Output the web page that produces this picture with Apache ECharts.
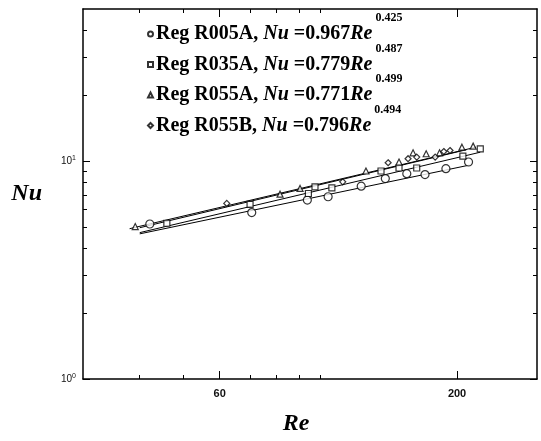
<!DOCTYPE html>
<html lang="en">
<head>
    <meta charset="UTF-8">
    <title>Nu vs Re</title>
</head>
<body style="margin:0;background:#fff;">
<div id="main" style="width:541px;height:441px;"></div>
<script src="https://cdn.jsdelivr.net/npm/echarts@6/dist/echarts.min.js"></script>
<script type="text/javascript">
    // data (Re, Nu)
    const r005a = [[42.1, 5.15], [70.6, 5.81], [93.6, 6.63], [104, 6.87], [123, 7.68], [139, 8.32],
        [155, 8.77], [170, 8.68], [189, 9.24], [212, 9.92]];
    const r035a = [[45.9, 5.19], [70, 6.34], [94.1, 7.11], [97.3, 7.63], [106, 7.55], [136, 9.02],
        [149, 9.31], [163, 9.31], [206, 10.56], [225, 11.4]];
    const r055a = [[39.1, 5.01], [81.5, 7.06], [90.2, 7.5], [126, 9.02], [149, 9.92], [160, 10.93],
        [171, 10.82], [183, 10.93], [205, 11.6], [217, 11.73]];
    const r055b = [[62.2, 6.4], [112, 8.04], [141, 9.84], [156, 10.27], [163, 10.45], [179, 10.45],
        [187, 11.08], [193, 11.2]];

    // fitted lines, end points
    const fit005a = [[40, 4.64], [213, 9.6]];
    const fit035a = [[40, 4.7], [225, 11.0]];
    const fit055a = [[38, 4.9], [220, 11.6]];
    const fit055b = [[40, 4.95], [210, 11.3]];

    const seriesNames = ['R005A', 'R035A', 'R055A', 'R055B'];
    const coefs = ['0.967', '0.779', '0.771', '0.796'];
    const exps = ['0.425', '0.487', '0.499', '0.494'];

    const xMinorTicks = [40, 50, 70, 80, 90, 100];
    const xMajorTicks = [60, 200];
    const yMinorTicks = [2, 3, 4, 5, 6, 7, 8, 9, 20, 30, 40];
    const yMajorTicks = [1, 10];

    const chart = echarts.init(document.getElementById('main'));

    const serif = 'Liberation Serif';
    const lineCol = '#000';

    function xAxis(pos, ticks, len, labels, line) {
        return {
            type: 'log', logBase: 10, min: 30, max: 300, position: pos,
            axisLine: {show: line, lineStyle: {color: lineCol, width: 1.5}},
            axisTick: {show: true, inside: true, length: len, customValues: ticks,
                lineStyle: {color: lineCol, width: 1}},
            axisLabel: labels ? {show: true, customValues: ticks, margin: 9,
                fontFamily: 'Liberation Sans', fontSize: 11, fontWeight: 'bold', color: '#111'} : {show: false},
            splitLine: {show: false}
        };
    }
    function yAxis(pos, ticks, len, labels, line) {
        return {
            type: 'log', logBase: 10, min: 1, max: 50, position: pos,
            axisLine: {show: line, lineStyle: {color: lineCol, width: 1.5}},
            axisTick: {show: true, inside: true, length: len, customValues: ticks,
                lineStyle: {color: lineCol, width: 1}},
            axisLabel: labels ? {show: true, customValues: ticks, margin: 7,
                formatter: v => '{b|10}{s|' + (v >= 10 ? '1' : '0') + '}',
                rich: {
                    b: {fontFamily: 'Liberation Sans', fontSize: 10, color: '#111'},
                    s: {fontFamily: 'Liberation Sans', fontSize: 7, color: '#111', padding: [0, 0, 6, 0]}
                }} : {show: false},
            splitLine: {show: false}
        };
    }

    const xs = [
        xAxis('bottom', xMinorTicks, 4, false, true),
        xAxis('bottom', xMajorTicks, 8, true, false),
        xAxis('top', xMinorTicks, 4, false, true),
        xAxis('top', xMajorTicks, 8, false, false)
    ];
    xs[0].name = 'Re';
    xs[0].nameLocation = 'middle';
    xs[0].nameGap = 33;
    xs[0].nameTextStyle = {fontFamily: serif, fontSize: 24, fontWeight: 'bold', fontStyle: 'italic',
        color: '#000', padding: [0, 28, 0, 0]};

    const ys = [
        yAxis('left', yMinorTicks, 4, false, true),
        yAxis('left', yMajorTicks, 7, true, false),
        yAxis('right', yMinorTicks, 4, false, true),
        yAxis('right', yMajorTicks, 7, false, false)
    ];
    ys[0].name = 'Nu';
    ys[0].nameLocation = 'middle';
    ys[0].nameRotate = 0;
    ys[0].nameGap = 41;
    ys[0].nameTextStyle = {fontFamily: serif, fontSize: 24, fontWeight: 'bold', fontStyle: 'italic', color: '#000'};

    const symbols = ['circle', 'rect', 'triangle', 'diamond'];
    const sizes = [8, 6, 6, 6];
    const pts = [r005a, r035a, r055a, r055b];
    const fits = [fit005a, fit035a, fit055a, fit055b];

    const series = [];
    seriesNames.forEach((n, i) => {
        series.push({
            name: n, type: 'scatter', data: pts[i], symbol: symbols[i], symbolSize: sizes[i],
            itemStyle: {color: '#fff', borderColor: '#000', borderWidth: 1.2}, z: 3
        });
        series.push({
            name: n + ' fit', type: 'line', data: fits[i], showSymbol: false, symbol: 'none',
            lineStyle: {color: '#000', width: 1}, z: 2
        });
    });

    chart.setOption({
        animation: false,
        grid: {left: 83, right: 4, top: 9, bottom: 59},
        xAxis: xs,
        yAxis: ys,
        legend: {
            data: seriesNames.map((n, i) => ({name: n, icon: symbols[i]})),
            orient: 'vertical', left: 142, top: 7, itemWidth: 5, itemHeight: 5, itemGap: -1.5,
            formatter: name => {
                const i = seriesNames.indexOf(name);
                return '{b|Reg ' + name + ', }{i|Nu}{b| =' + coefs[i] + '}{i|Re}{s|' + exps[i] + '}';
            },
            textStyle: {
                padding: [0, 0, 0, -2],
                rich: {
                    b: {fontFamily: serif, fontSize: 20, fontWeight: 'bold', color: '#000'},
                    i: {fontFamily: serif, fontSize: 20, fontWeight: 'bold', fontStyle: 'italic', color: '#000'},
                    s: {fontFamily: serif, fontSize: 12, fontWeight: 'bold', color: '#000', padding: [0, 0, 32, 3]}
                }
            },
            selectedMode: false
        },
        series: series
    });
</script>
</body>
</html>
